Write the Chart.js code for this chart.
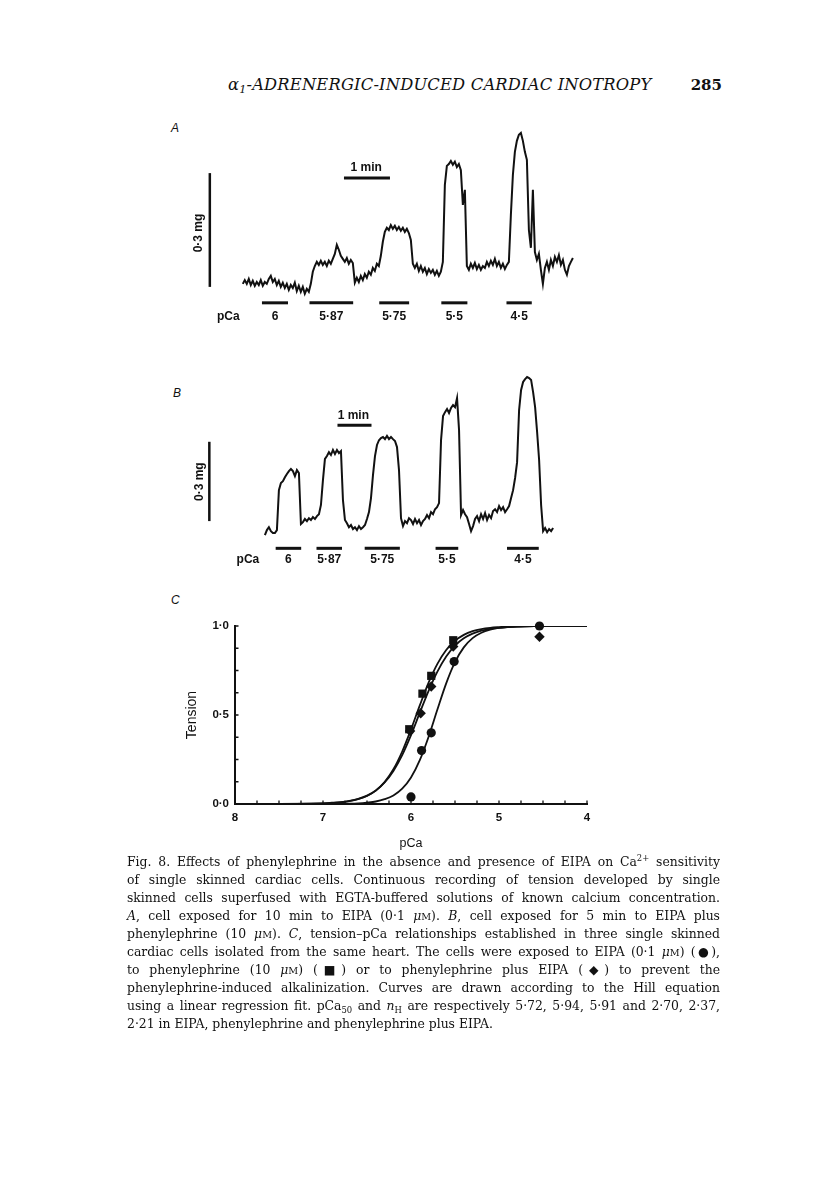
<!DOCTYPE html>
<html><head><meta charset="utf-8">
<script src="https://cdn.jsdelivr.net/npm/chart.js@4.4.1/dist/chart.umd.min.js"></script>
<style>
html,body{margin:0;padding:0;background:#fff;}
body{width:816px;height:1183px;position:relative;overflow:hidden;color:#111;}
.abs{position:absolute;white-space:nowrap;}
.head{font-family:'DejaVu Serif','Liberation Serif',serif;font-style:italic;font-size:16.3px;line-height:20px;letter-spacing:0.2px;}
.pno{font-family:'DejaVu Serif',serif;font-size:15px;font-weight:bold;line-height:20px;}
.plab{font-family:'Liberation Sans',Arial,sans-serif;font-style:italic;font-size:12px;line-height:14px;}
.cap{position:absolute;left:127px;width:593px;font-family:'DejaVu Serif',serif;font-size:12.4px;line-height:18px;text-align:justify;text-align-last:justify;}
.cap.last{text-align-last:left;}
sub,sup{font-size:0.68em;line-height:0;}
sub{vertical-align:-0.3em;} sup{vertical-align:0.55em;}
.sc{font-size:0.78em;}
canvas{position:absolute;}
</style></head>
<body>
<div class="abs head" style="left:228px;top:75px;">α<sub>1</sub>-ADRENERGIC-INDUCED CARDIAC INOTROPY</div>
<div class="abs pno" style="right:94px;top:75px;">285</div>

<div class="abs plab" style="left:171px;top:121px;">A</div>
<div class="abs plab" style="left:173px;top:386px;">B</div>
<div class="abs plab" style="left:171px;top:593px;">C</div>

<canvas id="cA" width="440" height="220" style="left:160px;top:120px;"></canvas>
<canvas id="cB" width="440" height="230" style="left:160px;top:340px;"></canvas>
<canvas id="cC" width="440" height="270" style="left:160px;top:590px;"></canvas>

<div class="cap" style="top:853px;">Fig. 8. Effects of phenylephrine in the absence and presence of EIPA on Ca<sup>2+</sup> sensitivity</div>
<div class="cap" style="top:871px;">of single skinned cardiac cells. Continuous recording of tension developed by single</div>
<div class="cap" style="top:889px;">skinned cells superfused with EGTA-buffered solutions of known calcium concentration.</div>
<div class="cap" style="top:907px;"><i>A</i>, cell exposed for 10 min to EIPA (0·1 <i>μ</i><span class="sc">M</span>). <i>B</i>, cell exposed for 5 min to EIPA plus</div>
<div class="cap" style="top:925px;">phenylephrine (10 <i>μ</i><span class="sc">M</span>). <i>C</i>, tension–pCa relationships established in three single skinned</div>
<div class="cap" style="top:943px;">cardiac cells isolated from the same heart. The cells were exposed to EIPA (0·1 <i>μ</i><span class="sc">M</span>) (●),</div>
<div class="cap" style="top:961px;">to phenylephrine (10 <i>μ</i><span class="sc">M</span>) (■) or to phenylephrine plus EIPA (◆) to prevent the</div>
<div class="cap" style="top:979px;">phenylephrine-induced alkalinization. Curves are drawn according to the Hill equation</div>
<div class="cap" style="top:997px;">using a linear regression fit. pCa<sub>50</sub> and <i>n</i><sub>H</sub> are respectively 5·72, 5·94, 5·91 and 2·70, 2·37,</div>
<div class="cap last" style="top:1015px;">2·21 in EIPA, phenylephrine and phenylephrine plus EIPA.</div>

<script>
// ================= DATA =================
// Panel A: continuous tension record (mg), one sample every 2.61 s
const sampleStepA = 2.61;
const tensionA = [
 0.008,0.018,0.008,0.021,0.005,0.016,0.003,0.013,0.005,0.018,
 0.003,0.013,0.008,0.021,0.029,0.013,0.021,0.005,0.016,0.000,
 0.011,-0.003,0.008,-0.008,0.005,-0.003,0.011,-0.011,0.003,-0.013,
 0.000,-0.018,-0.005,-0.013,0.008,0.040,0.055,0.066,0.058,0.069,
 0.058,0.066,0.055,0.069,0.061,0.074,0.087,0.111,0.098,0.082,
 0.074,0.066,0.076,0.061,0.071,0.063,0.011,0.024,0.013,0.029,
 0.018,0.034,0.024,0.040,0.032,0.050,0.042,0.061,0.055,0.082,
 0.119,0.145,0.156,0.150,0.163,0.153,0.161,0.150,0.158,0.148,
 0.156,0.145,0.153,0.142,0.124,0.061,0.050,0.061,0.042,0.055,
 0.040,0.050,0.034,0.047,0.037,0.045,0.032,0.042,0.029,0.040,
 0.066,0.269,0.319,0.324,0.332,0.322,0.330,0.316,0.324,0.308,
 0.216,0.256,0.055,0.045,0.061,0.050,0.063,0.047,0.058,0.045,
 0.055,0.050,0.066,0.055,0.069,0.058,0.074,0.055,0.066,0.050,
 0.061,0.047,0.058,0.066,0.190,0.295,0.356,0.385,0.401,0.406,
 0.385,0.356,0.335,0.150,0.103,0.256,0.092,0.071,0.087,0.045,
 0.008,0.050,0.066,0.045,0.071,0.055,0.079,0.066,0.084,0.058,
 0.071,0.045,0.032,0.055,0.066,0.076];
// solution application periods (start, end in s)
const solutionsA = [[25,59],[87,144],[178,217],[259,293],[344,377]];
const pCaLabels = ['6','5·87','5·75','5·5','4·5'];

// Panel B: continuous tension record (mg), one sample every 3.53 s
const sampleStepB = 3.53;
const tensionB = [
 -0.053,-0.034,-0.023,-0.038,-0.045,-0.045,-0.034,0.117,0.144,0.151,
 0.166,0.178,0.189,0.197,0.189,0.170,0.193,0.182,-0.011,-0.004,
 0.008,0.000,0.011,0.004,0.015,0.008,0.019,0.026,0.061,0.155,
 0.235,0.246,0.261,0.250,0.269,0.254,0.269,0.257,0.265,0.079,
 0.004,-0.008,-0.023,-0.015,-0.030,-0.023,-0.034,-0.019,-0.030,-0.023,
 -0.015,0.008,0.034,0.087,0.174,0.246,0.288,0.306,0.314,0.318,
 0.310,0.322,0.310,0.318,0.310,0.303,0.280,0.193,0.011,-0.019,
 0.000,-0.008,0.011,0.004,-0.011,0.008,-0.008,0.004,-0.015,0.000,
 0.008,0.023,0.011,0.034,0.026,0.045,0.053,0.068,0.306,0.397,
 0.412,0.424,0.409,0.428,0.439,0.431,0.465,0.344,0.023,0.042,
 0.026,0.015,-0.011,-0.038,-0.019,0.008,0.019,0.000,0.026,0.008,
 0.030,0.004,0.023,0.011,0.038,0.045,0.034,0.057,0.042,0.053,
 0.034,0.045,0.057,0.087,0.117,0.163,0.223,0.420,0.496,0.526,
 0.537,0.545,0.541,0.534,0.488,0.431,0.337,0.231,0.061,-0.038,
 -0.026,-0.042,-0.030,-0.038,-0.026];
const solutionsB = [[19,64],[91,136],[176,238],[301,341],[427,483]];

// Panel C: tension–pCa relationships
const pCaGrid   = [8.0,7.0,6.9,6.8,6.7,6.6,6.5,6.4,6.3,6.2,6.1,6.0,5.9,5.8,5.7,5.6,5.5,5.4,5.3,5.2,5.1,5.0,4.9,4.8,4.6,4.0];
const fitEIPA   = [0.000,0.000,0.001,0.001,0.002,0.004,0.008,0.014,0.027,0.048,0.086,0.149,0.246,0.378,0.531,0.678,0.797,0.880,0.932,0.962,0.979,0.989,0.994,0.997,0.999,1.000];
const fitPE     = [0.000,0.003,0.005,0.009,0.016,0.027,0.045,0.075,0.123,0.195,0.295,0.419,0.554,0.682,0.787,0.865,0.917,0.950,0.971,0.983,0.990,0.994,0.997,0.998,0.9995,1.000];
const fitPEEIPA = [0.000,0.004,0.007,0.011,0.018,0.029,0.047,0.076,0.121,0.186,0.275,0.387,0.513,0.636,0.744,0.829,0.890,0.931,0.957,0.974,0.984,0.990,0.994,0.997,0.999,1.000];
const pCaEIPA   = [6.00,5.88,5.77,5.51,4.54];
const tenEIPA   = [0.04,0.30,0.40,0.80,1.00];
const pCaPE     = [6.02,5.87,5.77,5.52,4.54];
const tenPE     = [0.42,0.62,0.72,0.92,1.06];
const pCaPEEIPA = [6.01,5.89,5.77,5.52,4.54];
const tenPEEIPA = [0.41,0.51,0.66,0.885,0.94];
const tensionTickLabels = {0:'0·0', 0.5:'0·5', 1:'1·0'};

// ================= DRAWING =================
const INK = '#111';
Chart.defaults.font.family = "'Liberation Sans', Arial, sans-serif";
Chart.defaults.color = INK;
const LBL = "bold 12px 'Liberation Sans', Arial, sans-serif";

function textMarks(items){
  return {id:'textMarks', afterDatasetsDraw(chart){
    const {ctx, scales:{x,y}} = chart;
    items.forEach(it=>{
      ctx.save(); ctx.font = it.font || LBL; ctx.fillStyle = INK;
      ctx.textAlign='center'; ctx.textBaseline='middle';
      ctx.translate(x.getPixelForValue(it.x), y.getPixelForValue(it.y));
      if (it.rot) ctx.rotate(it.rot);
      ctx.fillText(it.text, 0, 0); ctx.restore();
    });
  }};
}
function seg(data, w){
  return {data, showLine:true, borderColor:INK, borderWidth:w, pointRadius:0, tension:0, fill:false, borderCapStyle:'butt'};
}
function traceChart(id, c){
  const pts = c.tension.map((v,i)=>({x:i*c.dt, y:v}));
  const ds = [seg(pts, 2)];
  c.solutions.forEach(s=>ds.push(seg([{x:s[0],y:c.barY},{x:s[1],y:c.barY}], 3)));
  ds.push(seg([{x:c.scaleX,y:0},{x:c.scaleX,y:0.3}], 2.5));
  ds.push(seg([{x:c.minStart,y:c.minY},{x:c.minStart+60,y:c.minY}], 3));
  const items = [
    {text:'pCa', x:c.pCaX, y:c.labY},
    {text:'1 min', x:c.minStart+30+c.minTxtDx, y:c.minTxtY},
    {text:'0·3 mg', x:c.mgX, y:c.mgY, rot:-Math.PI/2}
  ];
  c.solutions.forEach((s,i)=>items.push({text:pCaLabels[i], x:(s[0]+s[1])/2, y:c.labY}));
  new Chart(document.getElementById(id), {
    type:'scatter', data:{datasets:ds},
    options:{responsive:false, animation:false, events:[], layout:{padding:0},
      plugins:{legend:{display:false}, tooltip:{enabled:false}},
      scales:{x:{type:'linear', min:c.xmin, max:c.xmax, display:false},
              y:{type:'linear', min:c.ymin, max:c.ymax, display:false}}},
    plugins:[textMarks(items)]
  });
}

traceChart('cA', {tension:tensionA, dt:sampleStepA, solutions:solutionsA,
  xmin:-108, xmax:466, ymin:-0.14, ymax:0.44,
  barY:-0.042, labY:-0.079, pCaX:-19, scaleX:-43, mgX:-57, mgY:0.142,
  minStart:132, minY:0.287, minTxtY:0.313, minTxtDx:-1});

traceChart('cB', {tension:tensionB, dt:sampleStepB, solutions:solutionsB,
  xmin:-185, xmax:591, ymin:-0.185, ymax:0.685,
  barY:-0.103, labY:-0.146, pCaX:-30, scaleX:-98, mgX:-115, mgY:0.149,
  minStart:128, minY:0.363, minTxtY:0.398, minTxtDx:-2});

// Panel C
const xy = (xs, ys) => xs.map((v,i)=>({x:v, y:ys[i]}));
const marker = (data, style, r) => ({data, pointStyle:style, pointRadius:r, pointHoverRadius:r,
  pointBackgroundColor:INK, pointBorderColor:INK, pointBorderWidth:0, showLine:false, clip:false});
const curve = ys => ({data:xy(pCaGrid, ys), showLine:true, borderColor:INK, borderWidth:1.8,
  pointRadius:0, cubicInterpolationMode:'monotone', fill:false});

const inwardTicks = {id:'inwardTicks', afterDraw(chart){
  const {ctx, chartArea:a, scales:{x,y}} = chart;
  ctx.save(); ctx.strokeStyle=INK; ctx.lineWidth=1.3; ctx.beginPath();
  x.ticks.forEach(t=>{const p=x.getPixelForValue(t.value); ctx.moveTo(p,a.bottom); ctx.lineTo(p,a.bottom-3.5);});
  y.ticks.forEach(t=>{const p=y.getPixelForValue(t.value); ctx.moveTo(a.left,p); ctx.lineTo(a.left+3.5,p);});
  ctx.stroke(); ctx.restore();
}};

new Chart(document.getElementById('cC'), {
  type:'scatter',
  data:{datasets:[
    marker(xy(pCaEIPA, tenEIPA), 'circle', 4.6),
    marker(xy(pCaPE, tenPE), 'rect', 5.8),
    marker(xy(pCaPEEIPA, tenPEEIPA), 'rectRot', 5.2),
    curve(fitEIPA), curve(fitPE), curve(fitPEEIPA)
  ]},
  options:{responsive:false, animation:false, events:[],
    layout:{padding:{top:36, right:13, bottom:0, left:0}},
    plugins:{legend:{display:false}, tooltip:{enabled:false}},
    scales:{
      x:{type:'linear', reverse:true, min:4, max:8,
        afterFit(s){ s.height = 56; },
        grid:{display:false, drawTicks:false},
        border:{display:true, color:INK, width:2},
        ticks:{stepSize:0.25, autoSkip:false, maxRotation:0, padding:7, color:INK,
          font:{size:11.5, weight:'bold'},
          callback:v => Number.isInteger(v) ? String(v) : ''},
        title:{display:true, text:'pCa', color:INK, font:{size:12.5}, padding:{top:0, bottom:9}}},
      y:{type:'linear', min:0, max:1,
        afterFit(s){ s.width = 75; },
        grid:{display:false, drawTicks:false},
        border:{display:true, color:INK, width:2},
        ticks:{stepSize:0.125, autoSkip:false, padding:6, color:INK,
          font:{size:11.5, weight:'bold'},
          callback:v => (v in tensionTickLabels) ? tensionTickLabels[v] : ''},
        title:{display:true, text:'Tension', color:INK, font:{size:14}, padding:{top:23.6, bottom:0}}}
    }},
  plugins:[inwardTicks]
});
</script>
</body></html>
